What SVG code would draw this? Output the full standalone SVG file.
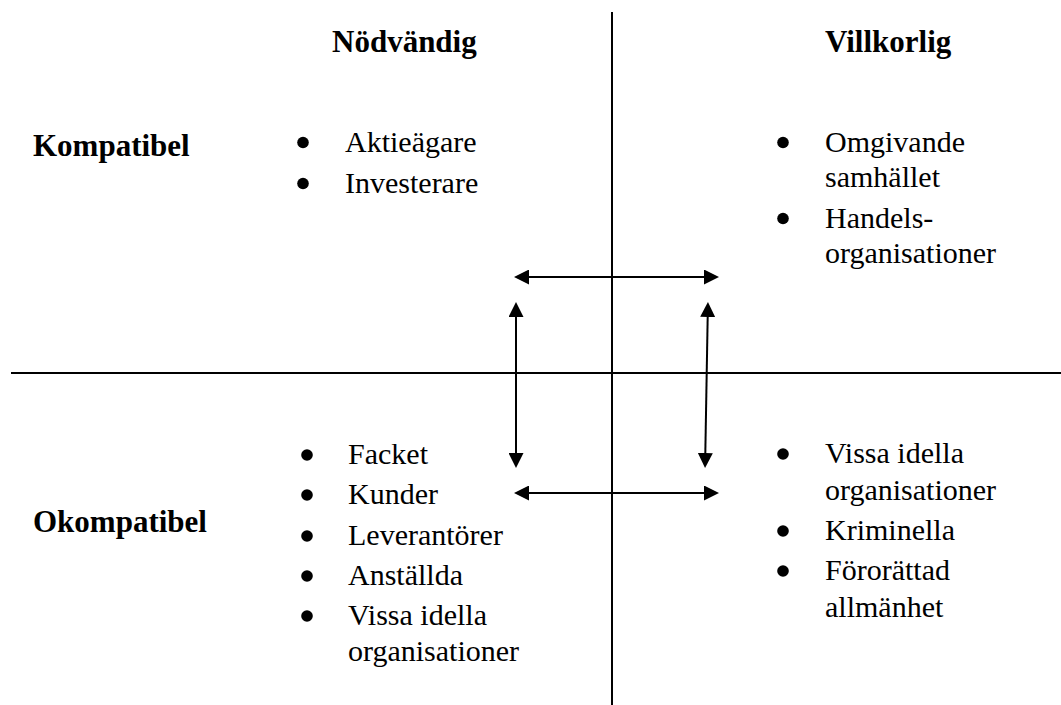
<svg xmlns="http://www.w3.org/2000/svg" width="1061" height="705" viewBox="0 0 1061 705">
  <style>
    .hdr { font-family: "Liberation Serif", "Times New Roman", serif; font-weight: bold; font-size: 31px; fill: #000; }
    .item { font-family: "Liberation Serif", "Times New Roman", serif; font-size: 30px; fill: #000; }
    .axis { stroke: #000; stroke-width: 2; fill: none; }
    .link { stroke: #000; stroke-width: 2; fill: none; marker-start: url(#head); marker-end: url(#head); }
    .dot { fill: #000; }
  </style>
  <defs>
    <marker id="head" viewBox="0 0 15 15" refX="7" refY="7.5" markerWidth="15" markerHeight="15" markerUnits="userSpaceOnUse" orient="auto-start-reverse">
      <path d="M0,0 L15,7.5 L0,15 z" fill="#000"/>
    </marker>
  </defs>
  <rect width="1061" height="705" fill="#fff"/>

  <!-- quadrant axes -->
  <g id="axes">
    <line class="axis" x1="612" y1="12" x2="612" y2="705"/>
    <line class="axis" x1="11" y1="373" x2="1061" y2="373"/>
  </g>

  <!-- column headings -->
  <g id="col-nodvandig">
    <text class="hdr" x="332" y="52">Nödvändig</text>
  </g>
  <g id="col-villkorlig">
    <text class="hdr" x="825" y="52">Villkorlig</text>
  </g>

  <!-- row headings -->
  <g id="row-kompatibel">
    <text class="hdr" x="33" y="156">Kompatibel</text>
  </g>
  <g id="row-okompatibel">
    <text class="hdr" x="33" y="532">Okompatibel</text>
  </g>

  <!-- upper left: necessary, compatible -->
  <g id="q-nodvandig-kompatibel">
    <circle class="dot" cx="303" cy="142.5" r="5.8"/>
    <text class="item" x="345" y="152">Aktieägare</text>
    <circle class="dot" cx="303" cy="183.5" r="5.8"/>
    <text class="item" x="345" y="193">Investerare</text>
  </g>

  <!-- upper right: contingent, compatible -->
  <g id="q-villkorlig-kompatibel">
    <circle class="dot" cx="783" cy="142.5" r="5.8"/>
    <text class="item" x="825" y="152">Omgivande</text>
    <text class="item" x="825" y="187">samhället</text>
    <circle class="dot" cx="783" cy="218.5" r="5.8"/>
    <text class="item" x="825" y="228">Handels-</text>
    <text class="item" x="825" y="263">organisationer</text>
  </g>

  <!-- lower left: necessary, incompatible -->
  <g id="q-nodvandig-okompatibel">
    <circle class="dot" cx="307" cy="455" r="5.8"/>
    <text class="item" x="348" y="464">Facket</text>
    <circle class="dot" cx="307" cy="495" r="5.8"/>
    <text class="item" x="348" y="504">Kunder</text>
    <circle class="dot" cx="307" cy="536" r="5.8"/>
    <text class="item" x="348" y="545">Leverantörer</text>
    <circle class="dot" cx="307" cy="576" r="5.8"/>
    <text class="item" x="348" y="585">Anställda</text>
    <circle class="dot" cx="307" cy="616" r="5.8"/>
    <text class="item" x="348" y="625">Vissa idella</text>
    <text class="item" x="348" y="661">organisationer</text>
  </g>

  <!-- lower right: contingent, incompatible -->
  <g id="q-villkorlig-okompatibel">
    <circle class="dot" cx="783" cy="454" r="5.8"/>
    <text class="item" x="825" y="463">Vissa idella</text>
    <text class="item" x="825" y="500">organisationer</text>
    <circle class="dot" cx="783" cy="531" r="5.8"/>
    <text class="item" x="825" y="540">Kriminella</text>
    <circle class="dot" cx="783" cy="571" r="5.8"/>
    <text class="item" x="825" y="580">Förorättad</text>
    <text class="item" x="825" y="617">allmänhet</text>
  </g>

  <!-- double-headed arrows between the quadrants -->
  <g id="connectors">
    <line class="link" x1="522" y1="277" x2="711" y2="277"/>
    <line class="link" x1="522" y1="493" x2="711" y2="493"/>
    <line class="link" x1="516" y1="310" x2="516" y2="460"/>
    <line class="link" x1="707.8" y1="310" x2="705.2" y2="460"/>
  </g>
</svg>
